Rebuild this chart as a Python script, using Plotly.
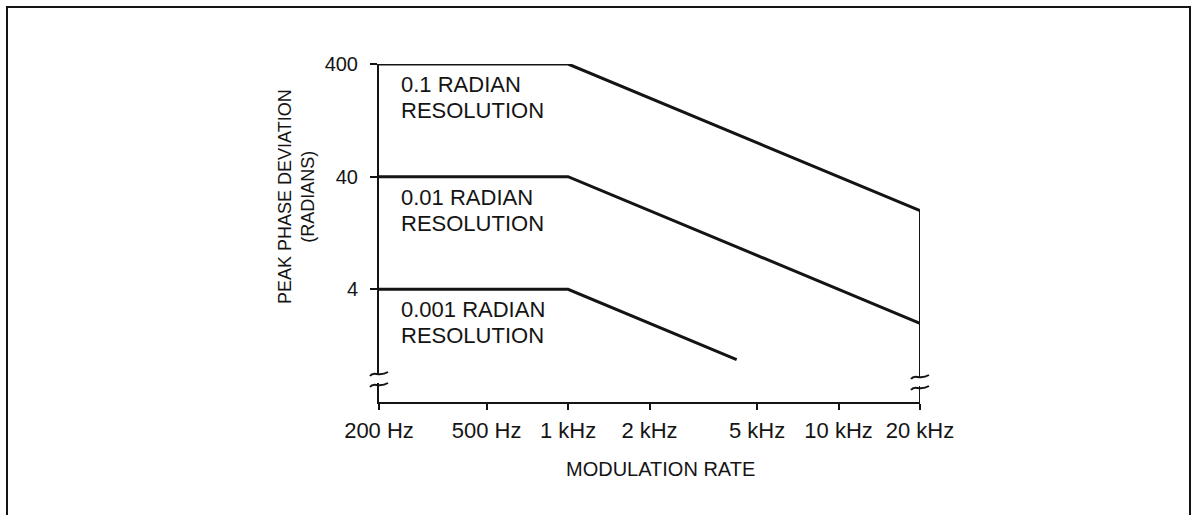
import math
import plotly.graph_objects as go

# Modulation rate (Hz) vs. maximum peak phase deviation (radians)
freq_01 = [200, 1000, 20000]
dev_01 = [400, 400, 20]

freq_001 = [200, 1000, 20000]
dev_001 = [40, 40, 2]

freq_0001 = [200, 1000, 4200]
dev_0001 = [4, 4, 0.95]

edge_freq = [20000, 20000]
edge_dev = [20, 0.4]

x_ticks = [200, 500, 1000, 2000, 5000, 10000, 20000]
x_ticktext = ["200 Hz", "500 Hz", "1 kHz", "2 kHz", "5 kHz", "10 kHz", "20 kHz"]
y_ticks = [4, 40, 400]
y_ticktext = ["4", "40", "400"]

labels = [
    (["0.1 RADIAN", "RESOLUTION"], 400),
    (["0.01 RADIAN", "RESOLUTION"], 40),
    (["0.001 RADIAN", "RESOLUTION"], 4),
]

W, H = 1193, 515
L, R, T, B = 379, 273, 64, 113
PW, PH = W - L - R, H - T - B

FONT = "Liberation Sans, Arial, sans-serif"
INK = "#141414"


def px_to_paper_x(px):
    return (px - L) / PW


def px_to_paper_y(py):
    return (H - B - py) / PH


fig = go.Figure()
line_style = dict(color=INK, width=3)
for fx, dv in [(freq_01, dev_01), (freq_001, dev_001), (freq_0001, dev_0001)]:
    fig.add_trace(go.Scatter(x=fx, y=dv, mode="lines", line=line_style,
                             cliponaxis=False, hoverinfo="skip"))
fig.add_trace(go.Scatter(x=edge_freq, y=edge_dev, mode="lines",
                         line=dict(color=INK, width=2), cliponaxis=False,
                         hoverinfo="skip"))

shapes = []
# outer frame
shapes.append(dict(type="rect", xref="paper", yref="paper",
                   x0=px_to_paper_x(7), x1=px_to_paper_x(1190),
                   y0=px_to_paper_y(530), y1=px_to_paper_y(7),
                   line=dict(color=INK, width=2), layer="below"))


def tilde_path(y0):
    return f"M -9,{y0 - 2} C -5,{y0 + 4} -1,{y0 - 4} 9,{y0 + 2}"


# axis break marks on the left axis and on the 20 kHz edge
for xd, yup in [(0, 23), (1, 20)]:
    shapes.append(dict(type="rect", xref="x domain", yref="y domain",
                       xsizemode="pixel", ysizemode="pixel",
                       xanchor=xd, yanchor=0,
                       x0=-3, x1=3, y0=yup - 4, y1=yup + 4,
                       fillcolor="white", line=dict(width=0), layer="above"))
    for dy in (5, -6):
        shapes.append(dict(type="path", xref="x domain", yref="y domain",
                           xsizemode="pixel", ysizemode="pixel",
                           xanchor=xd, yanchor=0,
                           path=tilde_path(yup + dy),
                           line=dict(color=INK, width=2), layer="above"))

annotations = []
for lines, yv in labels:
    for i, text in enumerate(lines):
        annotations.append(dict(x=math.log10(200), y=math.log10(yv), xref="x", yref="y",
                                text=text, showarrow=False, xanchor="left", yanchor="top",
                                align="left", xshift=20, yshift=-6 - 26 * i,
                                font=dict(family=FONT, size=22, color=INK)))

annotations.append(dict(x=px_to_paper_x(296), y=px_to_paper_y(197), xref="paper", yref="paper",
                        text="PEAK PHASE DEVIATION<br>(RADIANS)", showarrow=False,
                        textangle=-90, xanchor="center", yanchor="middle", align="center",
                        font=dict(family=FONT, size=18, color=INK)))
annotations.append(dict(x=px_to_paper_x(660), y=px_to_paper_y(469), xref="paper", yref="paper",
                        text="MODULATION RATE", showarrow=False,
                        xanchor="center", yanchor="middle",
                        font=dict(family=FONT, size=20, color=INK)))

fig.update_layout(
    width=W, height=H,
    margin=dict(l=L, r=R, t=T, b=B, pad=0),
    paper_bgcolor="white", plot_bgcolor="white",
    showlegend=False,
    font=dict(family=FONT, size=22, color=INK),
    shapes=shapes, annotations=annotations,
    xaxis=dict(type="log", range=[math.log10(200), math.log10(20000)],
               tickvals=x_ticks, ticktext=x_ticktext,
               showline=True, linewidth=2, linecolor=INK,
               ticks="outside", ticklen=6, tickwidth=2, tickcolor=INK,
               showgrid=False, zeroline=False, ticklabelstandoff=2,
               tickfont=dict(family=FONT, size=22, color=INK)),
    yaxis=dict(type="log", range=[math.log10(0.4), math.log10(400)],
               tickvals=y_ticks, ticktext=y_ticktext,
               showline=True, linewidth=2, linecolor=INK,
               ticks="outside", ticklen=7, tickwidth=2, tickcolor=INK,
               showgrid=False, zeroline=False, ticklabelstandoff=8,
               tickfont=dict(family=FONT, size=20, color=INK)),
)

fig.write_html("out.html")
